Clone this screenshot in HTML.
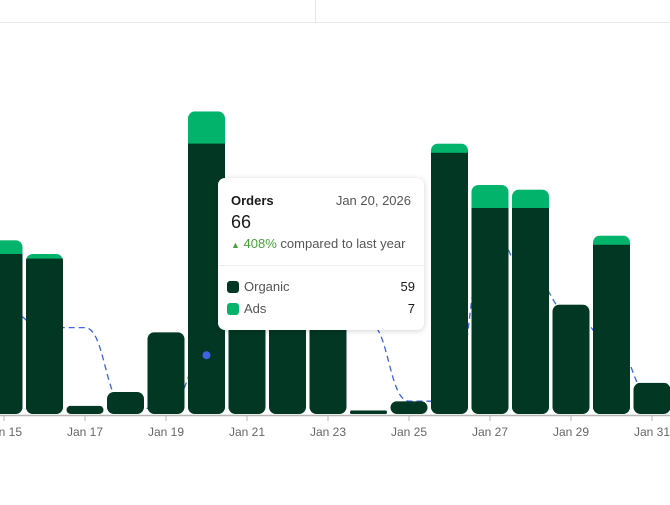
<!DOCTYPE html>
<html><head><meta charset="utf-8">
<style>
body{margin:0;width:670px;height:505px;background:#fff;font-family:"Liberation Sans",sans-serif;overflow:hidden;position:relative}
#tip{position:absolute;left:218px;top:178px;width:206px;height:152px;background:#fff;border-radius:7px;box-shadow:0 1px 6px rgba(0,0,0,.18);color:#1a1a1a}
.row{position:absolute;font-size:13px}
.sw{display:inline-block;width:12px;height:12px;border-radius:3px;vertical-align:-2px;margin-right:5px}
</style></head><body>
<svg id="chart" width="670" height="505" style="position:absolute;left:0;top:0">
<line x1="0" y1="22.5" x2="670" y2="22.5" stroke="#e6e6e6"/>
<line x1="315.5" y1="0" x2="315.5" y2="22" stroke="#e6e6e6"/>
<g id="g"></g>
</svg>
<div id="tip">
 <div class="row" style="left:13px;top:15px;font-weight:bold">Orders</div>
 <div class="row" style="right:13px;top:15px;color:#555">Jan 20, 2026</div>
 <div class="row" style="left:13px;top:34px;font-size:18px">66</div>
 <div class="row" style="left:13px;top:58px;color:#555"><span style="color:#4aa03a;font-size:9px">&#9650;</span> <span style="color:#4aa03a">408%</span> compared to last year</div>
 <div style="position:absolute;left:0;right:0;top:87px;border-top:1px solid #eee"></div>
 <div class="row" style="left:9px;top:101px;color:#555"><span class="sw" style="background:#023823"></span>Organic</div>
 <div class="row" style="right:9px;top:101px">59</div>
 <div class="row" style="left:9px;top:123px;color:#555"><span class="sw" style="background:#02b36b"></span>Ads</div>
 <div class="row" style="right:9px;top:123px">7</div>
</div>
<script>
const days=[15,16,17,18,19,20,21,22,23,24,25,26,27,28,29,30,31];
const organic=[35,34,2,5,18,59,44,40,45,1,3,57,45,45,24,37,7];
const ads=[3,1,0,0,0,7,0,0,0,0,0,2,5,4,0,2,0];
const lastYear=[23,19,19,2,1,13,30,30,30,20,3,3,40,30,22,16,4];
const tickLabels=["Jan 15","Jan 17","Jan 19","Jan 21","Jan 23","Jan 25","Jan 27","Jan 29","Jan 31"];
const tickDays=[15,17,19,21,23,25,27,29,31];
const NS="http://www.w3.org/2000/svg",g=document.getElementById('g');
const base=415,k=4.6;
const x=d=>4+(d-15)*40.5, y=v=>base-v*k;
function el(t,a){const e=document.createElementNS(NS,t);for(const n in a)e.setAttribute(n,a[n]);g.appendChild(e);return e;}
let pts=days.map((d,i)=>[x(d),y(lastYear[i])]);
let dstr="M"+pts[0][0]+","+pts[0][1];
for(let i=1;i<pts.length;i++){const p=pts[i-1],q=pts[i],m=(p[0]+q[0])/2;dstr+=` C${m},${p[1]} ${m},${q[1]} ${q[0]},${q[1]}`;}
const ln=el('path',{d:dstr,fill:'none',stroke:'#3d63e6','stroke-width':1.3,'stroke-dasharray':'6 4'});


days.forEach((d,i)=>{
 const bw=37,x0=x(d)-bw/2,tot=organic[i]+ads[i],top=y(tot),h=base-1-top,r=Math.min(7,h/2);
 const cid='c'+d;
 const cp=el('clipPath',{id:cid});
 const cr=document.createElementNS(NS,'rect');
 cr.setAttribute('x',x0);cr.setAttribute('y',top);cr.setAttribute('width',bw);cr.setAttribute('height',h);cr.setAttribute('rx',r);
 cp.appendChild(cr);
 const full=el('rect',{x:x0,y:top,width:bw,height:h,fill:ads[i]?'#02b36b':'#023823','clip-path':`url(#${cid})`});
 
 
 if(ads[i]){const ot=y(organic[i]);const o=el('rect',{x:x0,y:ot,width:bw,height:base-1-ot,fill:'#023823','clip-path':`url(#${cid})`});
  
  }
});
const dot=el('circle',{cx:x(20),cy:y(lastYear[5]),r:4,fill:'#3d63e6'});


const ax=el('line',{x1:0,y1:base+.5,x2:670,y2:base+.5,stroke:'#b5b5b5','stroke-width':1.5});


tickDays.forEach((d,i)=>{
 el('line',{x1:x(d),y1:base,x2:x(d),y2:base+6,stroke:'#b5b5b5'});
 const t=el('text',{x:x(d),y:base+21,'text-anchor':'middle','font-size':12,fill:'#666','font-family':'Liberation Sans, sans-serif'});
 t.textContent=tickLabels[i];
 
 
});
</script>
</body></html>
